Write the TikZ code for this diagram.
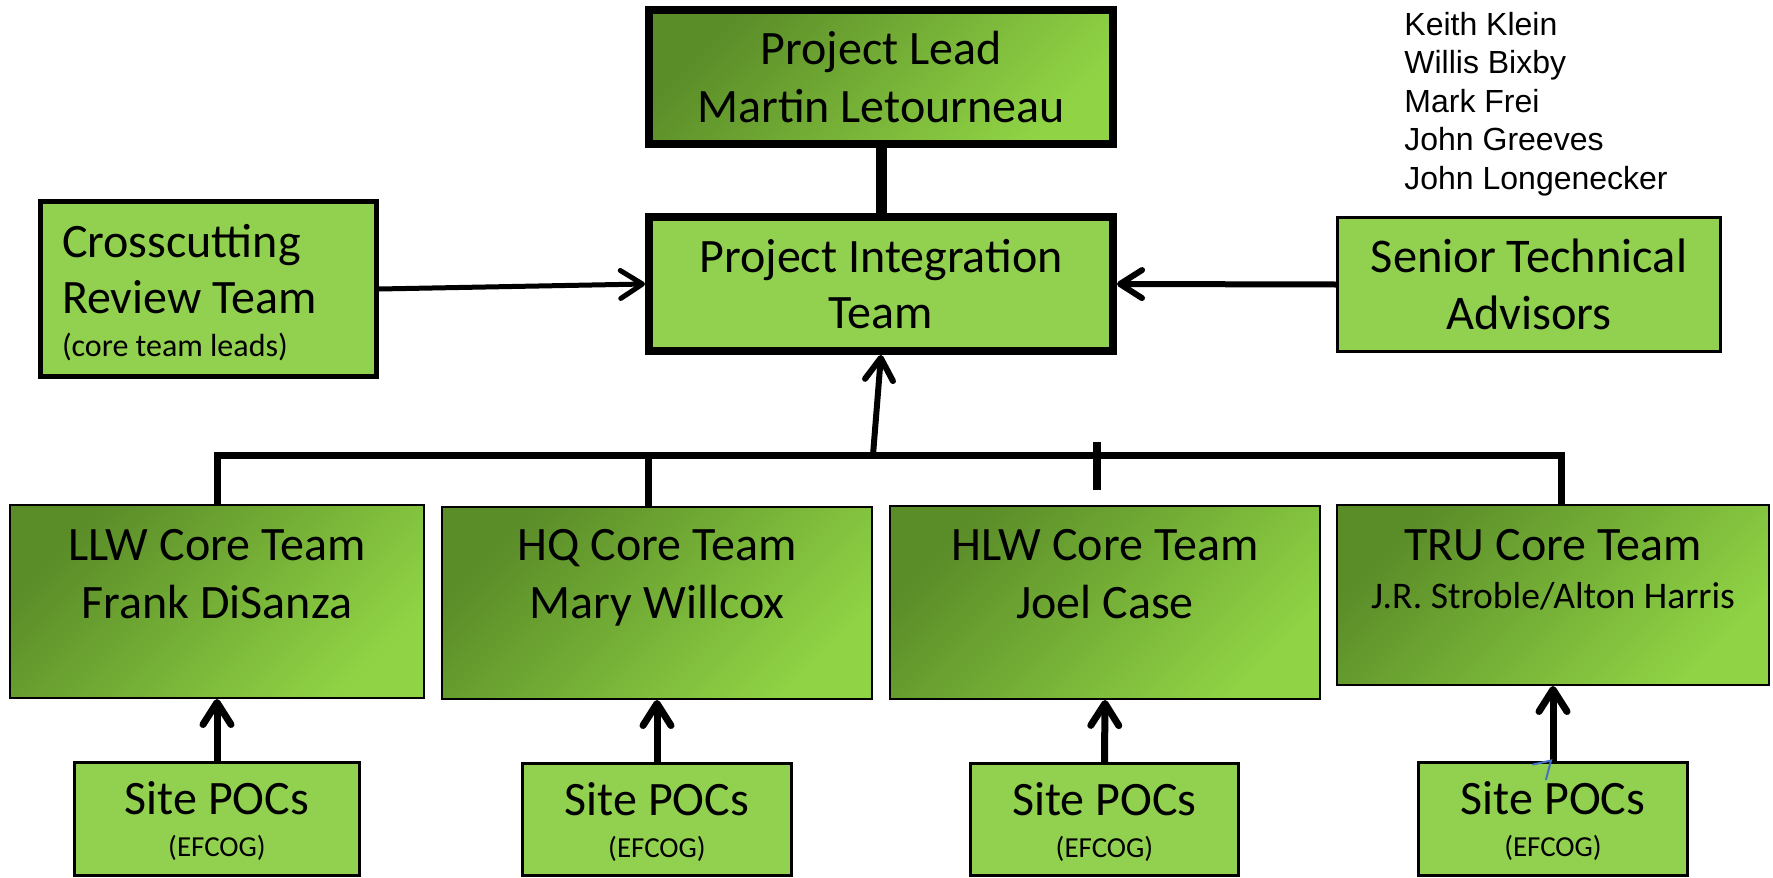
\documentclass[tikz,border=0pt]{standalone}
\usepackage{fontspec}
\setmainfont{Carlito}
\newfontfamily\namefont{Liberation Sans}
\usetikzlibrary{positioning,arrows.meta}
\definecolor{boxgreen}{HTML}{92D050}
\definecolor{darkgreen}{HTML}{5A8C28}
\definecolor{lightgreen}{HTML}{90D345}
\definecolor{markblue}{HTML}{4472C4}

\begin{document}
\begin{tikzpicture}[x=0.5pt,y=-0.5pt]
    \tikzstyle{flatbox}=[draw, fill=boxgreen, align=center, inner sep=0pt]
    \tikzstyle{shadebox}=[draw, top color=darkgreen, bottom color=lightgreen, shading angle=45, align=center, inner sep=0pt]
    \tikzstyle{bigtext}=[font=\fontsize{24}{29}\selectfont]
    \tikzstyle{coretext}=[align=center, inner sep=0pt, bigtext]
    \tikzstyle{uparrow}=[-{Straight Barb[length=11pt,width=14pt,round]}, line width=3pt]
    \tikzstyle{busline}=[line width=3.5pt]

    \useasboundingbox (0,0) rectangle (1773,878);

    % lead and integration team
    \node[shadebox, line width=4pt, minimum width=232pt, minimum height=67pt, bigtext] (lead) at (881,77) {Project Lead\\Martin Letourneau};
    \node[flatbox, line width=4pt, minimum width=232pt, minimum height=67pt, font=\fontsize{24}{28}\selectfont] (pit) at (881,284) {Project Integration\\Team};
    \node[flatbox, line width=2.5pt, minimum width=168pt, minimum height=87.5pt, align=flush left, text width=146.5pt, font=\fontsize{24}{28.3}\selectfont] (crt) at (208.5,289)
        {\rule{0pt}{20pt}Crosscutting\\Review Team\\[-7pt]{\fontsize{16}{19}\selectfont (core team leads)}};
    \node[flatbox, line width=1.5pt, minimum width=191.5pt, minimum height=67pt, font=\fontsize{24.2}{28.5}\selectfont] (sta) at (1529,284.5) {Senior Technical\\Advisors};
    \node[font=\namefont\fontsize{16}{19.2}\selectfont, align=left, anchor=north west, inner sep=0pt] (advisors) at (1404,12)
        {Keith Klein\\Willis Bixby\\Mark Frei\\John Greeves\\John Longenecker};

    % core teams
    \node[shadebox, line width=1pt, minimum width=207pt, minimum height=96.5pt] (llw) at (217,601.5) {};
    \node[shadebox, line width=1pt, minimum width=215pt, minimum height=96pt] (hq) at (657,603) {};
    \node[shadebox, line width=1pt, minimum width=215pt, minimum height=96.5pt] (hlw) at (1105,602.5) {};
    \node[shadebox, line width=1pt, minimum width=216pt, minimum height=90pt] (tru) at (1553,595) {};
    \node[coretext, below=12.5pt of llw.north] (llwtext) {LLW Core Team\\Frank DiSanza};
    \node[coretext, below=11.5pt of hq.north] (hqtext) {HQ Core Team\\Mary Willcox};
    \node[coretext, below=12pt of hlw.north] (hlwtext) {HLW Core Team\\Joel Case};
    \node[coretext, below=12.5pt of tru.north] (trutext) {TRU Core Team\\[-5pt]{\fontsize{18.8}{21}\selectfont J.R. Stroble/Alton Harris}};

    % site points of contact
    \node[flatbox, line width=1.5pt, minimum width=142.5pt, minimum height=56.5pt, bigtext] (site1) at (217,819) {\rule{0pt}{19pt}Site POCs\\[-8pt]{\fontsize{14.5}{17}\selectfont (EFCOG)}};
    \node[flatbox, line width=1.5pt, minimum width=134.5pt, minimum height=56pt, bigtext] (site2) at (657,819.5) {\rule{0pt}{19pt}Site POCs\\[-8pt]{\fontsize{14.5}{17}\selectfont (EFCOG)}};
    \node[flatbox, line width=1.5pt, minimum width=134pt, minimum height=56pt, bigtext] (site3) at (1104.5,819.5) {\rule{0pt}{19pt}Site POCs\\[-8pt]{\fontsize{14.5}{17}\selectfont (EFCOG)}};
    \node[flatbox, line width=1.5pt, minimum width=134.5pt, minimum height=56.5pt, bigtext] (site4) at (1553,819) {\rule{0pt}{19pt}Site POCs\\[-8pt]{\fontsize{14.5}{17}\selectfont (EFCOG)}};

    % connectors
    \draw[line width=5.5pt] (lead.south) -- (pit.north);
    \draw[uparrow, line width=2.5pt] (crt.east) -- (pit.west);
    \draw[uparrow] (sta.west) -- (pit.east);

    \coordinate (busL) at (217,455);
    \coordinate (busR) at (1561,455);
    \coordinate (busup) at (873,455);
    \coordinate (hqdrop) at (648,455);
    \coordinate (tick) at (1097,442);
    \draw[busline] (llw.north) -- (busL) -- (busR) -- (busR |- tru.north);
    \draw[busline] (hqdrop) -- (hqdrop |- hq.north);
    \draw[line width=4pt] (tick) -- ++(0,48);
    \draw[uparrow] (busup) -- (pit.south);

    \draw[uparrow, line width=3.5pt] (site1.north) -- (llw.south);
    \draw[uparrow, line width=3.5pt] (site2.north) -- (hq.south);
    \draw[uparrow, line width=3.5pt] (site3.north) -- (hlw.south);
    \draw[uparrow, line width=3.5pt] (site4.north) -- (tru.south);

    % stray pen mark
    \draw[markblue, line width=1pt, line cap=round] ([shift={(-20,3.5)}]site4.north) -- ++(18,-4) -- ++(-5,19);
\end{tikzpicture}
\end{document}
